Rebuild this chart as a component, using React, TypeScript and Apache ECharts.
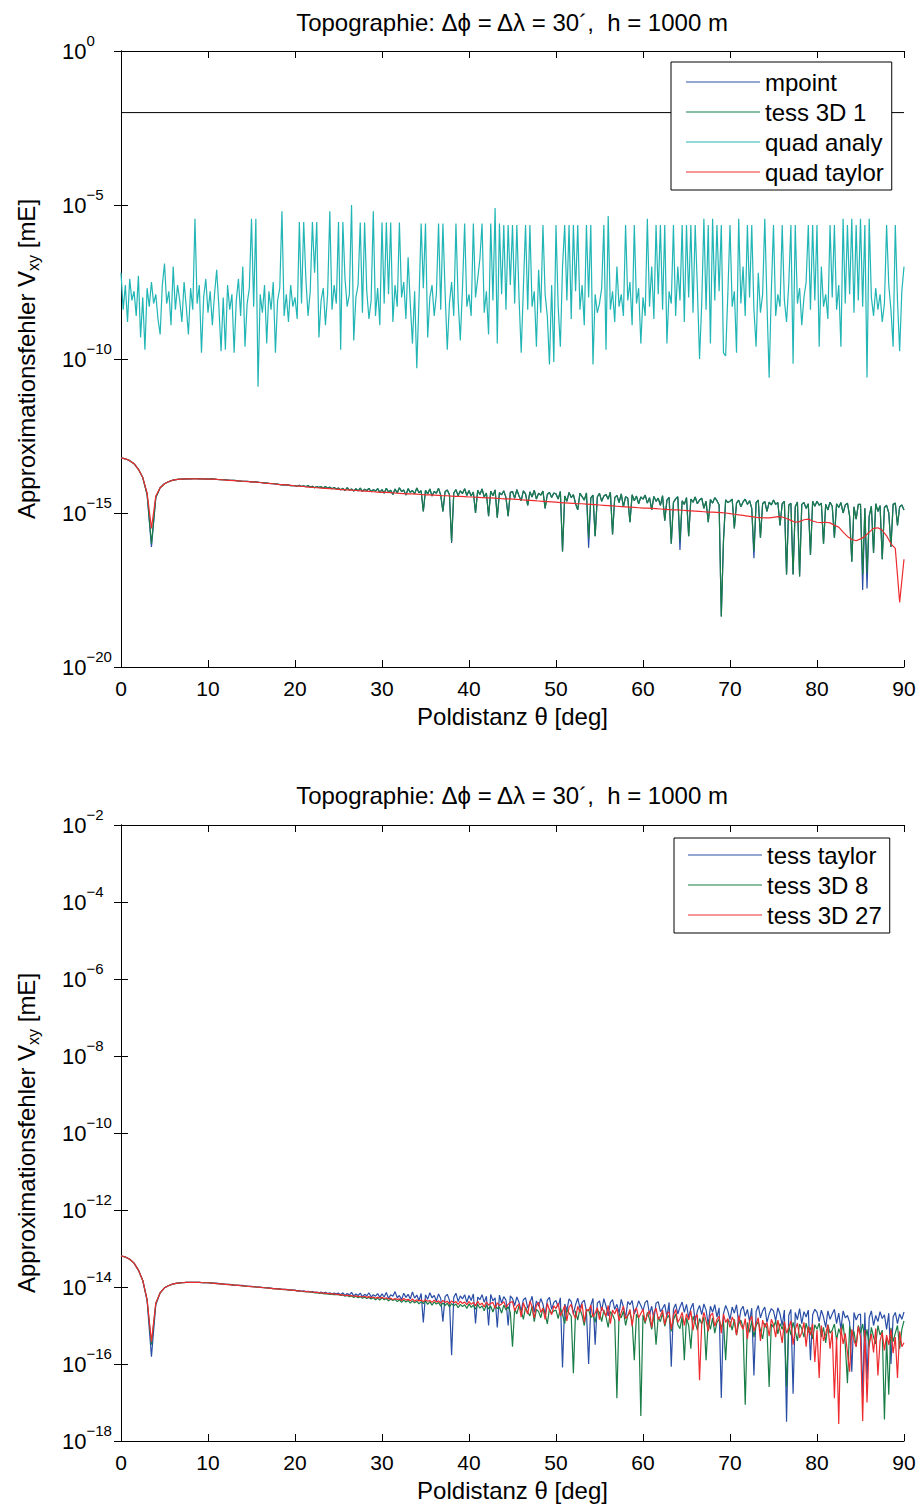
import React, { useEffect, useRef } from "react";
import * as echarts from "echarts";

const TITLE = "Topographie: Δϕ = Δλ = 30´,  h = 1000 m";
const X_NAME = "Poldistanz θ [deg]";
const TOP_NAMES = ["mpoint", "tess 3D 1", "quad analy", "quad taylor"];
const BOTTOM_NAMES = ["tess taylor", "tess 3D 8", "tess 3D 27"];
const COLORS = { blue: "#2a4ea6", green: "#187d46", cyan: "#22b5b5", red: "#ee2b2e", black: "#000000" };

// theta grids (deg): heads 0..19.5 step 0.5, tails 20..90 step 0.25
const HEAD_STEP = 0.5;
const TAIL_START = 20;
const TAIL_STEP = 0.25;
const STEP = 0.5;
const STEP_FINE = 0.25;

// horizontal reference line in the upper panel (log10 value)
const REF_THETA = [0, 90];
const REF_VALUE = [-2, -2];

// ---------- upper panel (log10 of error) ----------
const quadTaylorExp = [
  -13.21,-13.24,-13.30,-13.40,-13.58,-13.85,-14.35,-15.50,-14.45,-14.18,
  -14.05,-13.98,-13.93,-13.91,-13.90,-13.89,-13.89,-13.89,-13.89,-13.89,
  -13.90,-13.90,-13.91,-13.92,-13.93,-13.94,-13.95,-13.96,-13.97,-13.98,
  -13.99,-14.00,-14.01,-14.03,-14.04,-14.05,-14.07,-14.08,-14.09,-14.10,
  -14.12,-14.13,-14.14,-14.16,-14.17,-14.18,-14.19,-14.20,-14.21,-14.22,
  -14.23,-14.24,-14.25,-14.26,-14.27,-14.28,-14.29,-14.30,-14.31,-14.32,
  -14.33,-14.33,-14.34,-14.35,-14.36,-14.37,-14.38,-14.38,-14.39,-14.40,
  -14.41,-14.41,-14.42,-14.43,-14.44,-14.44,-14.45,-14.46,-14.46,-14.47,
  -14.48,-14.48,-14.49,-14.50,-14.51,-14.51,-14.52,-14.53,-14.54,-14.54,
  -14.55,-14.56,-14.57,-14.58,-14.59,-14.60,-14.61,-14.62,-14.63,-14.64,
  -14.65,-14.66,-14.67,-14.68,-14.69,-14.70,-14.70,-14.71,-14.72,-14.73,
  -14.74,-14.75,-14.76,-14.77,-14.78,-14.79,-14.80,-14.81,-14.82,-14.83,
  -14.84,-14.84,-14.85,-14.86,-14.87,-14.88,-14.89,-14.90,-14.90,-14.91,
  -14.92,-14.93,-14.94,-14.95,-14.96,-14.97,-14.97,-14.98,-14.99,-15.00,
  -15.02,-15.04,-15.06,-15.08,-15.10,-15.12,-15.14,-15.15,-15.16,-15.16,
  -15.14,-15.12,-15.13,-15.18,-15.24,-15.30,-15.28,-15.22,-15.20,-15.26,
  -15.30,-15.31,-15.30,-15.32,-15.40,-15.46,-15.62,-15.76,-15.86,-15.90,
  -15.84,-15.76,-15.62,-15.50,-15.48,-15.56,-15.74,-16.00,-16.15,-17.90,
  -16.50,
];

const tess3D1Head = [
  -13.21,-13.24,-13.30,-13.40,-13.58,-13.85,-14.40,-16.00,-14.50,-14.18,
  -14.05,-13.98,-13.93,-13.91,-13.90,-13.89,-13.89,-13.88,-13.89,-13.89,
  -13.90,-13.89,-13.91,-13.92,-13.92,-13.94,-13.94,-13.96,-13.97,-13.97,
  -13.99,-13.99,-14.01,-14.02,-14.04,-14.05,-14.06,-14.09,-14.08,-14.11,
];
const tess3D1Tail = [
  -14.11,-14.13,-14.10,-14.14,-14.12,-14.15,-14.11,-14.16,-14.13,-14.18,-14.14,-14.17,-14.15,-14.19,-14.14,-14.20,-14.16,-14.21,-14.17,-14.22,
  -14.19,-14.25,-14.20,-14.27,-14.18,-14.26,-14.22,-14.29,-14.21,-14.28,-14.19,-14.30,-14.23,-14.27,-14.20,-14.31,-14.24,-14.29,-14.21,-14.33,
  -14.24,-14.36,-14.20,-14.32,-14.26,-14.40,-14.22,-14.35,-14.18,-14.30,-14.25,-14.42,-14.21,-14.33,-14.27,-14.38,-14.19,-14.34,-14.28,-14.95,
  -14.26,-14.38,-14.22,-14.45,-14.30,-14.36,-14.20,-14.42,-14.95,-14.31,-14.25,-14.40,-15.93,-14.35,-14.24,-14.44,-14.28,-14.37,-14.21,-14.43,
  -14.27,-14.45,-14.32,-15.00,-14.26,-14.40,-14.22,-14.48,-14.35,-15.10,-14.29,-14.44,-14.25,-15.15,-14.34,-14.41,-14.28,-14.50,-15.10,-14.33,
  -14.30,-14.52,-14.24,-14.45,-14.60,-14.28,-14.38,-14.75,-14.31,-14.48,-14.26,-14.55,-14.36,-14.42,-14.29,-14.85,-14.40,-14.33,-14.50,-14.35,
  -14.38,-14.55,-14.30,-16.25,-14.45,-14.62,-14.33,-14.50,-14.40,-14.70,-14.90,-14.36,-14.47,-14.58,-14.35,-15.80,-14.52,-14.42,-15.75,-14.48,
  -14.36,-14.62,-14.45,-14.40,-14.55,-14.32,-15.70,-14.50,-14.43,-14.66,-14.38,-14.80,-14.47,-14.52,-15.30,-14.41,-14.60,-14.45,-14.70,-14.48,
  -14.55,-14.42,-14.68,-14.50,-14.90,-14.46,-14.62,-14.52,-14.75,-14.44,-15.25,-14.58,-14.49,-16.00,-14.66,-14.54,-14.47,-15.90,-14.60,-14.72,
  -14.50,-15.75,-14.55,-14.65,-14.48,-14.70,-14.58,-14.52,-14.85,-14.62,-15.30,-14.56,-14.68,-14.50,-14.60,-14.74,-18.36,-15.90,-14.57,-14.66,
  -14.62,-14.55,-15.50,-14.68,-14.58,-14.80,-14.64,-14.55,-14.72,-14.60,-14.85,-16.25,-14.66,-14.58,-15.80,-14.70,-14.62,-14.95,-14.65,-14.74,
  -14.58,-14.72,-14.66,-15.40,-14.70,-14.62,-17.00,-14.75,-14.68,-17.00,-14.80,-14.64,-17.06,-14.72,-14.66,-14.85,-14.70,-16.36,-14.62,-14.78,
  -14.62,-14.75,-14.68,-16.00,-14.72,-14.90,-14.65,-14.78,-15.80,-14.70,-14.82,-14.66,-15.00,-14.74,-14.68,-15.10,-16.58,-14.80,-15.20,-14.72,
  -14.72,-17.00,-14.85,-16.95,-15.10,-14.78,-16.30,-14.70,-14.95,-14.76,-16.50,-14.82,-14.75,-15.00,-16.10,-14.72,-14.68,-15.40,-14.80,-14.74,
  -14.90,
];

// mpoint coincides with tess 3D 1 except where it reaches deeper: [theta, log10]
const mpointDeeper = [
  [3.5, -16.10], [38.0, -15.97], [53.75, -16.13], [64.25, -16.20],
  [72.75, -16.47], [85.25, -17.50], [85.75, -17.45],
];

const quadAnalyExp = [
  -7.2,-8.4,-7.6,-8.8,-7.4,-8.1,-7.8,-8.6,-7.3,-9.3,-8.0,-9.7,-7.7,-8.3,-7.5,-8.2,-7.9,-8.7,-9.2,-7.6,
  -6.9,-8.2,-7.8,-8.9,-7.0,-8.4,-7.6,-8.1,-8.8,-7.5,-8.3,-9.2,-7.7,-8.4,-5.45,-8.2,-7.6,-9.8,-8.0,-7.4,
  -8.5,-7.8,-8.9,-7.9,-7.1,-8.3,-9.75,-8.0,-9.7,-7.6,-8.4,-7.9,-9.8,-8.1,-7.4,-8.6,-7.0,-9.6,-8.2,-7.7,
  -5.45,-8.3,-5.45,-10.9,-7.9,-8.5,-7.6,-9.5,-7.8,-8.4,-7.5,-9.8,-8.1,-7.7,-5.2,-8.6,-7.9,-8.8,-7.6,-8.3,
  -8.0,-8.7,-5.55,-8.2,-5.55,-7.4,-8.6,-7.8,-5.55,-7.2,-5.55,-9.3,-8.1,-7.7,-8.9,-7.9,-5.2,-8.4,-7.6,-8.2,
  -5.55,-9.7,-5.55,-7.4,-8.3,-7.9,-5.0,-9.4,-8.0,-7.6,-5.57,-8.5,-5.57,-7.8,-8.7,-8.1,-5.2,-8.6,-7.7,-8.9,
  -5.57,-8.2,-5.57,-7.9,-5.57,-8.8,-7.6,-8.3,-5.57,-8.0,-7.5,-8.7,-6.7,-8.2,-9.5,-7.8,-10.3,-8.1,-5.6,-7.7,
  -5.6,-9.3,-8.0,-7.6,-8.6,-7.9,-5.6,-8.4,-5.6,-7.8,-9.7,-8.2,-7.5,-8.6,-5.6,-8.1,-9.4,-7.7,-5.6,-8.3,
  -7.9,-8.6,-5.6,-8.0,-7.4,-6.75,-5.6,-8.5,-7.8,-9.2,-5.6,-8.1,-5.1,-9.5,-5.6,-7.9,-5.65,-8.4,-5.65,-7.6,
  -5.65,-8.2,-5.65,-8.0,-9.8,-7.7,-5.65,-8.4,-5.65,-8.3,-7.8,-9.6,-7.1,-8.5,-5.65,-7.9,-8.6,-10.18,-7.6,-10.1,
  -5.65,-8.3,-9.6,-7.0,-5.65,-8.1,-5.65,-8.7,-5.65,-7.8,-5.65,-8.4,-7.6,-8.9,-5.65,-8.0,-5.65,-10.18,-7.9,-8.5,
  -8.2,-7.7,-5.65,-9.7,-5.36,-8.4,-7.8,-8.8,-7.0,-8.3,-7.9,-8.6,-5.65,-8.1,-7.5,-8.9,-5.65,-8.2,-7.7,-9.5,
  -8.0,-8.6,-5.45,-8.3,-7.0,-8.7,-5.65,-7.9,-5.65,-8.4,-5.65,-9.5,-7.8,-8.2,-5.65,-8.6,-7.0,-8.1,-5.65,-8.8,
  -5.65,-8.0,-5.65,-8.5,-5.65,-7.7,-10.0,-8.2,-5.45,-8.4,-5.65,-9.5,-5.45,-8.1,-5.65,-7.8,-5.65,-9.8,-9.9,-7.9,
  -5.65,-8.3,-7.8,-9.8,-5.45,-8.2,-7.0,-8.6,-5.65,-8.0,-5.65,-8.4,-9.6,-7.2,-8.5,-7.9,-5.45,-8.2,-10.61,-7.8,
  -5.65,-8.6,-7.9,-8.3,-5.65,-8.1,-8.8,-7.6,-5.65,-10.15,-5.65,-8.2,-7.7,-8.9,-8.0,-7.5,-5.65,-8.4,-5.65,-8.1,
  -5.65,-9.6,-7.0,-8.3,-7.9,-8.7,-5.65,-8.0,-5.65,-8.4,-7.6,-9.6,-5.45,-8.2,-5.65,-7.9,-5.45,-8.5,-5.65,-8.1,
  -5.45,-8.3,-5.65,-10.6,-5.45,-8.0,-8.6,-7.7,-8.4,-7.9,-8.8,-8.2,-5.65,-7.6,-8.4,-9.6,-5.65,-8.1,-9.75,-7.8,
  -7.0,
];

// ---------- lower panel (log10 of error) ----------
const tessTaylorHead = [
  -13.19,-13.22,-13.28,-13.38,-13.56,-13.83,-14.36,-15.81,-14.46,-14.15,
  -14.02,-13.96,-13.92,-13.90,-13.89,-13.88,-13.88,-13.88,-13.88,-13.89,
  -13.89,-13.90,-13.90,-13.92,-13.93,-13.93,-13.95,-13.96,-13.96,-13.98,
  -13.98,-14.00,-14.00,-14.02,-14.02,-14.04,-14.04,-14.06,-14.06,-14.08,
];
const tessTaylorTail = [
  -14.08,-14.10,-14.09,-14.11,-14.10,-14.12,-14.11,-14.13,-14.12,-14.14,-14.13,-14.15,-14.13,-14.16,-14.14,-14.17,-14.15,-14.18,-14.16,-14.18,
  -14.16,-14.20,-14.15,-14.22,-14.17,-14.21,-14.14,-14.23,-14.18,-14.22,-14.16,-14.25,-14.19,-14.23,-14.15,-14.26,-14.20,-14.24,-14.17,-14.27,
  -14.18,-14.26,-14.14,-14.30,-14.20,-14.24,-14.12,-14.28,-14.22,-14.33,-14.16,-14.27,-14.19,-14.31,-14.13,-14.29,-14.21,-14.35,-14.17,-14.92,
  -14.20,-14.32,-14.15,-14.28,-14.22,-14.36,-14.18,-14.30,-14.90,-14.25,-14.19,-14.34,-15.77,-14.27,-14.16,-14.38,-14.23,-14.31,-14.20,-14.40,
  -14.22,-14.35,-14.18,-14.95,-14.26,-14.33,-14.20,-14.40,-14.24,-15.00,-14.19,-14.36,-14.28,-15.05,-14.21,-14.42,-14.25,-14.34,-15.00,-14.23,
  -14.30,-14.48,-14.26,-14.40,-14.62,-14.33,-14.28,-14.55,-14.42,-14.24,-14.66,-14.36,-14.50,-14.30,-14.45,-14.72,-14.34,-14.27,-14.58,-14.40,
  -14.35,-14.52,-14.28,-16.09,-14.44,-14.60,-14.31,-14.38,-14.70,-14.46,-14.29,-14.55,-14.40,-14.34,-14.64,-16.00,-14.48,-14.30,-15.50,-14.42,
  -14.36,-14.62,-14.30,-14.50,-14.75,-14.40,-14.33,-14.58,-14.45,-14.68,-14.32,-14.52,-14.80,-14.38,-14.46,-14.35,-14.70,-14.55,-14.36,-14.48,
  -14.62,-14.40,-14.35,-14.72,-14.50,-14.85,-14.42,-14.38,-14.64,-14.56,-14.45,-14.78,-14.40,-16.07,-14.58,-14.44,-14.70,-14.52,-14.39,-14.66,
  -14.45,-14.80,-14.55,-14.42,-14.90,-14.62,-14.48,-14.72,-14.44,-14.60,-14.98,-14.50,-14.66,-14.46,-14.78,-14.54,-16.88,-14.70,-14.48,-14.62,
  -14.85,-14.52,-14.68,-14.46,-14.95,-14.60,-14.50,-14.76,-14.58,-14.90,-14.55,-16.30,-14.64,-14.48,-14.80,-14.62,-14.52,-14.92,-14.70,-14.56,
  -14.62,-14.88,-14.54,-14.70,-15.00,-14.60,-17.50,-14.74,-14.58,-16.77,-14.66,-14.85,-14.56,-14.95,-14.64,-14.78,-14.60,-15.90,-14.72,-14.58,
  -14.66,-14.90,-14.60,-14.78,-15.05,-14.62,-14.84,-14.70,-14.58,-14.95,-14.68,-15.10,-14.62,-14.80,-14.74,-14.92,-16.20,-14.66,-14.86,-14.72,
  -14.70,-16.85,-14.66,-16.40,-14.80,-14.62,-15.00,-14.74,-14.90,-14.64,-14.82,-14.72,-15.10,-14.68,-16.00,-14.78,-14.66,-14.95,-14.70,-14.84,
  -14.65,
];

const tess3D8Head = [
  -13.19,-13.22,-13.28,-13.38,-13.56,-13.83,-14.33,-15.50,-14.43,-14.15,
  -14.02,-13.96,-13.92,-13.90,-13.89,-13.88,-13.88,-13.88,-13.88,-13.89,
  -13.89,-13.90,-13.91,-13.92,-13.93,-13.94,-13.95,-13.96,-13.97,-13.98,
  -13.99,-14.00,-14.01,-14.02,-14.03,-14.04,-14.05,-14.06,-14.07,-14.08,
];
const tess3D8Tail = [
  -14.09,-14.10,-14.11,-14.11,-14.12,-14.12,-14.13,-14.13,-14.14,-14.15,-14.15,-14.16,-14.16,-14.17,-14.18,-14.18,-14.19,-14.19,-14.20,-14.20,
  -14.20,-14.22,-14.21,-14.24,-14.22,-14.25,-14.23,-14.27,-14.24,-14.28,-14.25,-14.29,-14.26,-14.30,-14.27,-14.31,-14.28,-14.33,-14.29,-14.34,
  -14.28,-14.33,-14.30,-14.36,-14.31,-14.35,-14.32,-14.38,-14.33,-14.40,-14.34,-14.39,-14.35,-14.42,-14.36,-14.41,-14.37,-14.44,-14.38,-14.43,
  -14.36,-14.45,-14.38,-14.47,-14.39,-14.44,-14.40,-14.50,-14.41,-14.48,-14.42,-14.52,-14.43,-14.49,-14.44,-14.54,-14.45,-14.51,-14.46,-14.56,
  -14.44,-14.53,-14.47,-14.58,-14.45,-14.55,-14.49,-14.62,-14.46,-14.57,-14.50,-14.65,-14.48,-14.56,-14.52,-14.68,-14.47,-14.60,-14.51,-14.66,
  -15.55,-14.56,-14.70,-14.48,-14.62,-14.84,-14.52,-14.66,-14.75,-14.50,-14.90,-14.58,-14.64,-14.80,-14.54,-14.70,-14.96,-14.57,-14.68,-14.62,
  -14.60,-14.82,-14.55,-14.72,-14.95,-14.58,-14.68,-14.76,-16.24,-14.62,-14.86,-14.56,-14.74,-15.00,-14.64,-14.58,-14.80,-14.70,-14.92,-14.60,
  -14.66,-14.90,-14.60,-14.78,-15.05,-14.64,-14.72,-14.86,-16.89,-14.68,-14.80,-14.62,-15.00,-14.74,-14.66,-14.88,-15.90,-14.70,-14.82,-17.35,
  -14.72,-14.95,-14.66,-14.84,-15.10,-14.70,-15.50,-14.78,-14.90,-14.68,-15.02,-14.80,-14.74,-15.15,-14.86,-14.70,-14.98,-15.08,-14.76,-15.90,
  -14.80,-15.00,-15.60,-14.76,-14.92,-15.12,-14.82,-14.96,-14.78,-15.90,-14.88,-15.10,-14.80,-15.20,-14.92,-14.84,-15.05,-14.90,-15.90,-14.86,
  -14.90,-15.12,-14.84,-15.25,-14.95,-14.86,-15.05,-17.06,-14.92,-15.18,-14.88,-15.30,-15.00,-14.90,-15.12,-15.35,-14.94,-15.08,-16.60,-14.96,
  -15.05,-14.88,-15.22,-14.95,-15.10,-14.90,-16.60,-15.00,-15.25,-14.92,-15.15,-15.40,-14.96,-15.08,-15.30,-14.94,-15.18,-15.05,-15.35,-14.98,
  -15.10,-14.94,-15.30,-15.05,-15.45,-14.98,-15.20,-15.12,-14.96,-15.38,-15.08,-15.25,-14.95,-15.50,-16.50,-15.02,-15.28,-15.15,-15.55,-15.00,
  -15.20,-14.96,-15.40,-15.10,-15.55,-15.05,-15.30,-15.48,-15.00,-15.25,-15.12,-17.44,-15.35,-16.80,-15.06,-15.42,-15.20,-15.00,-15.60,-15.10,
  -14.88,
];

const tess3D27Head = [
  -13.19,-13.22,-13.28,-13.38,-13.56,-13.83,-14.33,-15.42,-14.42,-14.15,
  -14.02,-13.96,-13.92,-13.90,-13.89,-13.88,-13.88,-13.88,-13.88,-13.89,
  -13.89,-13.90,-13.91,-13.92,-13.93,-13.94,-13.95,-13.96,-13.97,-13.98,
  -13.99,-14.00,-14.01,-14.02,-14.03,-14.04,-14.05,-14.06,-14.07,-14.08,
];
const tess3D27Tail = [
  -14.09,-14.10,-14.10,-14.11,-14.11,-14.12,-14.12,-14.13,-14.13,-14.14,-14.14,-14.15,-14.15,-14.16,-14.16,-14.17,-14.17,-14.18,-14.18,-14.19,
  -14.19,-14.21,-14.20,-14.22,-14.21,-14.23,-14.22,-14.24,-14.23,-14.25,-14.24,-14.26,-14.24,-14.27,-14.25,-14.28,-14.26,-14.29,-14.27,-14.29,
  -14.27,-14.30,-14.28,-14.31,-14.29,-14.33,-14.30,-14.32,-14.31,-14.35,-14.30,-14.34,-14.32,-14.36,-14.31,-14.37,-14.33,-14.36,-14.34,-14.38,
  -14.33,-14.37,-14.35,-14.40,-14.34,-14.39,-14.36,-14.42,-14.35,-14.40,-14.37,-14.44,-14.36,-14.41,-14.38,-14.45,-14.37,-14.43,-14.39,-14.46,
  -14.38,-14.45,-14.40,-14.49,-14.37,-14.46,-14.42,-14.52,-14.39,-14.47,-14.43,-14.40,-14.55,-14.41,-14.48,-14.44,-14.38,-14.53,-14.45,-14.40,
  -14.38,-14.62,-14.50,-14.44,-14.78,-14.41,-14.58,-14.70,-14.36,-14.52,-14.80,-14.47,-14.40,-14.66,-14.55,-14.84,-14.43,-14.60,-14.72,-14.49,
  -14.56,-14.42,-14.75,-14.63,-14.48,-14.88,-14.52,-14.45,-14.70,-14.82,-14.50,-14.66,-14.44,-14.92,-14.58,-14.62,-14.47,-14.78,-14.68,-14.54,
  -14.85,-14.52,-14.64,-14.76,-14.48,-14.95,-14.60,-14.70,-14.55,-14.88,-14.66,-14.50,-14.82,-14.74,-14.58,-15.02,-14.62,-14.54,-14.80,-14.69,
  -14.58,-14.90,-14.72,-14.62,-15.05,-14.66,-14.55,-14.84,-14.76,-14.60,-14.98,-14.70,-14.64,-15.10,-14.74,-14.58,-14.92,-14.82,-14.66,-15.00,
  -14.70,-14.86,-14.62,-15.12,-14.78,-14.72,-16.42,-14.95,-14.66,-14.88,-15.15,-14.74,-14.68,-15.02,-14.84,-14.76,-15.20,-14.70,-14.92,-14.82,
  -15.05,-14.78,-14.90,-15.25,-14.74,-14.98,-15.10,-14.82,-15.35,-14.88,-14.76,-15.15,-14.95,-14.80,-15.40,-14.86,-15.05,-14.92,-15.28,-14.84,
  -14.98,-15.30,-14.86,-15.12,-15.45,-14.90,-15.20,-15.05,-14.88,-15.50,-15.10,-14.94,-15.32,-15.18,-14.92,-15.55,-15.02,-15.25,-14.96,-15.95,
  -15.12,-16.36,-15.00,-15.40,-15.22,-14.98,-15.60,-15.15,-16.89,-15.30,-17.56,-15.05,-15.48,-15.20,-15.70,-16.20,-15.10,-15.38,-15.55,-15.02,
  -15.30,-17.48,-15.12,-17.00,-15.45,-15.22,-15.70,-15.08,-16.30,-15.40,-15.18,-15.65,-15.25,-15.50,-15.10,-15.72,-15.30,-16.36,-15.15,-15.55,
  -15.45,
];

// ---------- helpers ----------
const FONT = "'Liberation Sans', Arial, Helvetica, sans-serif";

const round2 = (v: number) => Math.round(v * 100) / 100;

const toPairs = (exps: number[], step: number, start = 0) =>
  exps.map((e, i) => [round2(start + i * step), Math.pow(10, e)]);

const headTail = (head: number[], tail: number[]) => [
  ...toPairs(head, HEAD_STEP, 0),
  ...toPairs(tail, TAIL_STEP, TAIL_START),
];

const supLabel = (v: number) => {
  const n = Math.round(Math.log10(v));
  const s = n < 0 ? "\u2212" + Math.abs(n) : String(n);
  return `{b|10}{e|${s}}`;
};

const labelRich = {
  b: { fontSize: 22, fontFamily: FONT, color: "#000", lineHeight: 36, verticalAlign: "middle" },
  e: { fontSize: 15, fontFamily: FONT, color: "#000", lineHeight: 13, verticalAlign: "top" },
};

const lineSeries = (name: string, data: any[], color: string, xi: number, yi: number, width = 1.2) => ({
  name,
  type: "line",
  data,
  xAxisIndex: xi,
  yAxisIndex: yi,
  showSymbol: false,
  symbol: "none",
  lineStyle: { color, width },
  itemStyle: { color },
  silent: true,
});

export default function App() {
  const ref = useRef<HTMLDivElement>(null);

  useEffect(() => {
    if (!ref.current) return;
    const chart = echarts.init(ref.current, null, { renderer: "svg" });

    const grids = [
      { left: 121, top: 51, width: 783, height: 616 },
      { left: 121, top: 825, width: 783, height: 616 },
    ];

    const xBase = (gi: number, pos: "bottom" | "top") => ({
      type: "value",
      gridIndex: gi,
      position: pos,
      min: 0,
      max: 90,
      interval: 10,
      axisLine: { show: true, onZero: false, lineStyle: { color: "#000", width: 1 } },
      axisTick: { show: true, inside: true, length: 7, lineStyle: { color: "#000" } },
      axisLabel: pos === "bottom"
        ? { show: true, margin: 11, fontSize: 21, fontFamily: FONT, color: "#000" }
        : { show: false },
      splitLine: { show: false },
      name: pos === "bottom" ? X_NAME : "",
      nameLocation: "middle",
      nameGap: 37,
      nameTextStyle: { fontSize: 24, fontFamily: FONT, color: "#000" },
    });

    const yBase = (gi: number, pos: "left" | "right", min: number, max: number, interval: number) => ({
      type: "log",
      logBase: 10,
      gridIndex: gi,
      position: pos,
      min,
      max,
      interval,
      axisLine: { show: true, lineStyle: { color: "#000", width: 1 } },
      axisTick: { show: true, inside: true, length: 7, lineStyle: { color: "#000" } },
      minorTick: { show: false },
      axisLabel: pos === "left"
        ? { show: true, margin: 59, align: "left", formatter: supLabel, rich: labelRich }
        : { show: false },
      splitLine: { show: false },
    });

    const greenTop = headTail(tess3D1Head, tess3D1Tail);
    const mpointTop = greenTop.map(([t, v]) => {
      const hit = mpointDeeper.find(([dt]) => Math.abs(dt - t) < 1e-6);
      return [t, hit ? Math.pow(10, hit[1]) : v];
    });

    const legendBase = {
      orient: "vertical",
      itemGap: 6,
      itemWidth: 74,
      itemHeight: 1,
      icon: "rect",
      backgroundColor: "#fff",
      borderColor: "#000",
      borderWidth: 1,
      borderRadius: 0,
      textStyle: { fontSize: 24, fontFamily: FONT, color: "#000", lineHeight: 24 },
      selectedMode: false,
    };

    const option: any = {
      animation: false,
      backgroundColor: "#fff",
      grid: grids,
      xAxis: [xBase(0, "bottom"), xBase(0, "top"), xBase(1, "bottom"), xBase(1, "top")],
      yAxis: [
        yBase(0, "left", 1e-20, 1, 5),
        yBase(0, "right", 1e-20, 1, 5),
        yBase(1, "left", 1e-18, 1e-2, 2),
        yBase(1, "right", 1e-18, 1e-2, 2),
      ],
      legend: [
        { ...legendBase, data: TOP_NAMES, left: 671, top: 62, padding: [8, 8, 6, 15] },
        { ...legendBase, data: BOTTOM_NAMES, left: 674, top: 838, padding: [5, 8, 6, 14] },
      ],
      graphic: [
        ...[22, 795].map((cy) => ({
          type: "text",
          x: 512,
          y: cy,
          style: { text: TITLE, fontSize: 24, fontFamily: FONT, fill: "#000", align: "center", verticalAlign: "middle" },
        })),
        ...[359, 1133].map((cy) => ({
          type: "text",
          x: 26,
          y: cy,
          rotation: Math.PI / 2,
          style: {
            text: "{n|Approximationsfehler V}{s|xy}{n| [mE]}",
            align: "center",
            verticalAlign: "middle",
            rich: {
              n: { fontSize: 24, fontFamily: FONT, fill: "#000", lineHeight: 30, verticalAlign: "middle" },
              s: { fontSize: 16, fontFamily: FONT, fill: "#000", lineHeight: 16, verticalAlign: "bottom" },
            },
          },
        })),
      ],
      series: [
        lineSeries("ref", REF_THETA.map((t, i) => [t, Math.pow(10, REF_VALUE[i])]), COLORS.black, 0, 0, 1),
        lineSeries(TOP_NAMES[0], mpointTop, COLORS.blue, 0, 0),
        lineSeries(TOP_NAMES[1], greenTop, COLORS.green, 0, 0),
        lineSeries(TOP_NAMES[2], toPairs(quadAnalyExp, STEP_FINE), COLORS.cyan, 0, 0),
        lineSeries(TOP_NAMES[3], toPairs(quadTaylorExp, STEP), COLORS.red, 0, 0),
        lineSeries(BOTTOM_NAMES[0], headTail(tessTaylorHead, tessTaylorTail), COLORS.blue, 2, 2),
        lineSeries(BOTTOM_NAMES[1], headTail(tess3D8Head, tess3D8Tail), COLORS.green, 2, 2),
        lineSeries(BOTTOM_NAMES[2], headTail(tess3D27Head, tess3D27Tail), COLORS.red, 2, 2),
      ],
    };

    chart.setOption(option);
    return () => chart.dispose();
  }, []);

  return (
    <div
      ref={ref}
      style={{ position: "absolute", left: 0, top: 0, width: 921, height: 1508, background: "#fff" }}
    />
  );
}
